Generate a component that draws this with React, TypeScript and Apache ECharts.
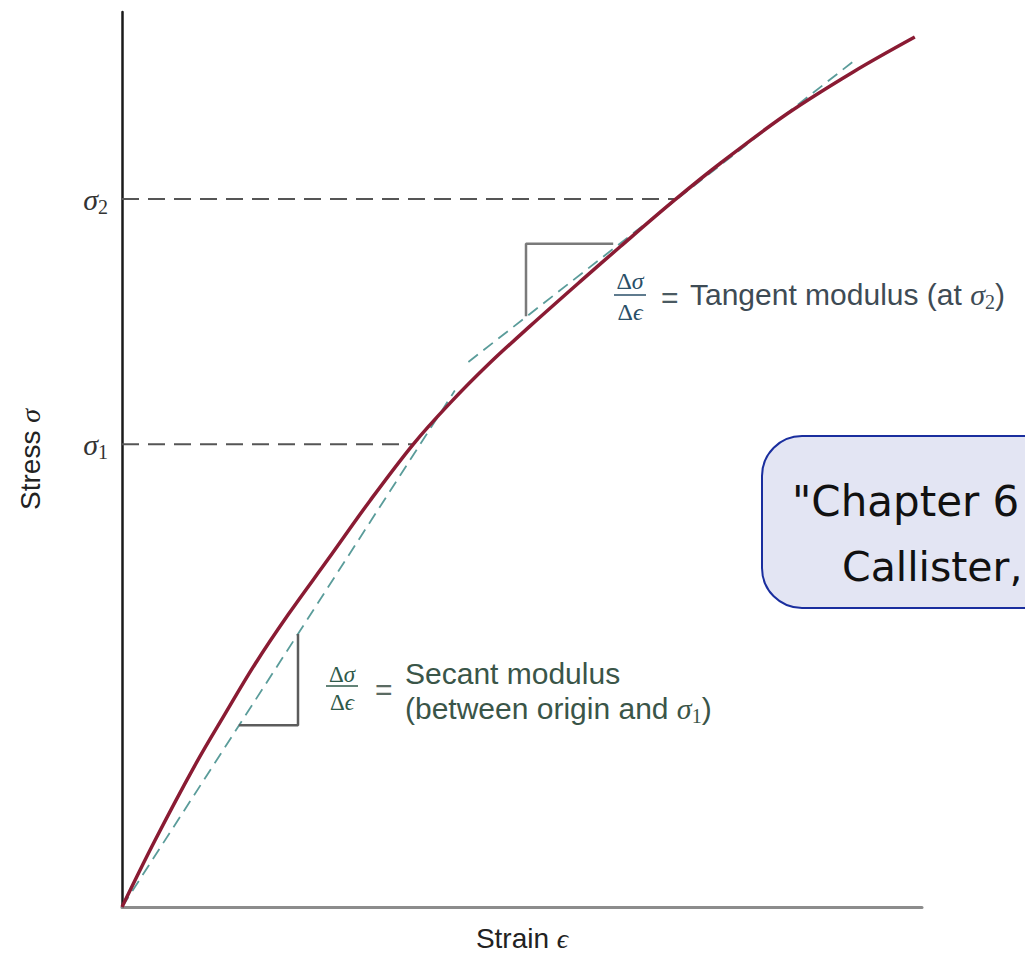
import React, { useEffect, useRef } from "react";
import * as echarts from "echarts";

// Stress–strain curve (strain units 0..100, stress units 0..100)
const strain = [0, 4.1, 9.1, 12.9, 16.6, 20.8, 25.8, 31.0, 36.4, 41.0, 46.0, 51.0, 57.3, 62.3, 69.1, 74.8, 83.1, 91.4, 99.1];
const stress = [0, 7.4, 15.8, 21.6, 27.1, 32.7, 38.9, 45.4, 51.7, 56.3, 60.8, 64.9, 69.9, 73.8, 79.0, 83.1, 88.6, 93.3, 97.2];

// Stress levels marked on the y axis and where they meet the curve
const sigmaLevels = [51.7, 79.1];
const sigmaNames = ["1", "2"];
const sigmaStrainAtCurve = [36.4, 69.0];

// Secant (origin to sigma1) and tangent (at sigma2) lines
const secantLine = [[0, 0], [41.6, 57.7]];
const tangentLine = [[43.3, 60.9], [91.3, 94.4]];
const secantTriangle = [[14.6, 20.3], [22.0, 20.3], [22.0, 30.5]];
const tangentTriangle = [[50.5, 66.0], [50.5, 74.1], [61.4, 74.1]];

export default function App() {
  const ref = useRef<HTMLDivElement>(null);
  useEffect(() => {
    if (!ref.current) return;
    const chart = echarts.init(ref.current, null, { renderer: "svg" });
    const curve = strain.map((x, i) => [x, stress[i]]);
    const sigmaSeries = sigmaLevels.map((s, i) => ({
      type: "line",
      data: [[0, s], [sigmaStrainAtCurve[i], s]],
      showSymbol: false,
      silent: true,
      z: 2,
      lineStyle: { color: "#555", width: 2, type: [17, 9] },
    }));
    const sansFont = "'Liberation Sans', Arial, sans-serif";
    const serifFont = "'Liberation Serif', 'DejaVu Serif', serif";
    const subRich = (color: string, size: number, subSize: number) => ({
      s: { fontFamily: serifFont, fontStyle: "italic", fontSize: size, color, fill: color, lineHeight: 36 },
      sub: { fontFamily: serifFont, fontSize: subSize, color, fill: color, lineHeight: 18, verticalAlign: "bottom" },
    });
    chart.setOption({
      animation: false,
      backgroundColor: "#ffffff",
      grid: { left: 122, right: 103, top: 12, bottom: 45, containLabel: false },
      xAxis: {
        type: "value",
        min: 0,
        max: 100,
        name: "Strain {e|ϵ}",
        nameLocation: "middle",
        nameGap: 31,
        nameTextStyle: {
          fontFamily: sansFont,
          fontSize: 28,
          color: "#222",
          verticalAlign: "middle",
          rich: { e: { fontFamily: serifFont, fontStyle: "italic", fontSize: 28, color: "#222" } },
        },
        axisLine: { onZero: false, lineStyle: { color: "#8c8c8c", width: 3 } },
        axisTick: { show: false },
        axisLabel: { show: false },
        splitLine: { show: false },
      },
      yAxis: {
        type: "value",
        min: 0,
        max: 100,
        name: "Stress {s|σ}",
        nameLocation: "middle",
        nameGap: 92,
        nameTextStyle: {
          fontFamily: sansFont,
          fontSize: 28,
          color: "#222",
          verticalAlign: "middle",
          rich: { s: { fontFamily: serifFont, fontStyle: "italic", fontSize: 28, color: "#222" } },
        },
        axisLine: { lineStyle: { color: "#1a1a1a", width: 2.5 } },
        axisTick: { show: false },
        splitLine: { show: false },
        axisLabel: {
          customValues: sigmaLevels,
          margin: 14,
          color: "#333",
          formatter: (v: number) => {
            const i = sigmaLevels.indexOf(v);
            return "{s|σ}{sub|" + (i >= 0 ? sigmaNames[i] : "") + "}";
          },
          rich: subRich("#333", 30, 20),
        },
      },
      series: [
        ...sigmaSeries,
        {
          type: "line",
          data: secantLine,
          showSymbol: false,
          silent: true,
          z: 3,
          lineStyle: { color: "#5a9c9a", width: 1.8, type: [12, 7] },
        },
        {
          type: "line",
          data: tangentLine,
          showSymbol: false,
          silent: true,
          z: 3,
          lineStyle: { color: "#5a9c9a", width: 1.8, type: [12, 7] },
        },
        {
          type: "line",
          data: secantTriangle,
          showSymbol: false,
          silent: true,
          z: 3,
          lineStyle: { color: "#5c5c5c", width: 2.5 },
        },
        {
          type: "line",
          data: tangentTriangle,
          showSymbol: false,
          silent: true,
          z: 3,
          lineStyle: { color: "#7a7a7a", width: 2.5 },
        },
        {
          type: "line",
          data: curve,
          smooth: 0.35,
          showSymbol: false,
          silent: true,
          z: 5,
          lineStyle: { color: "#8a1b33", width: 3.5 },
        },
      ],
      graphic: [
        // Tangent modulus label
        {
          type: "text",
          x: 630,
          y: 281,
          style: {
            text: "{d|Δ}{s|σ}",
            align: "center",
            verticalAlign: "middle",
            fill: "#2a4f68",
            rich: {
              d: { fontFamily: serifFont, fontSize: 24, fill: "#2a4f68" },
              s: { fontFamily: serifFont, fontStyle: "italic", fontSize: 24, fill: "#2a4f68" },
            },
          },
        },
        { type: "line", shape: { x1: 614, y1: 295, x2: 646, y2: 295 }, style: { stroke: "#2a4f68", lineWidth: 1.5 } },
        {
          type: "text",
          x: 630,
          y: 312,
          style: {
            text: "{d|Δ}{s|ϵ}",
            align: "center",
            verticalAlign: "middle",
            fill: "#2a4f68",
            rich: {
              d: { fontFamily: serifFont, fontSize: 24, fill: "#2a4f68" },
              s: { fontFamily: serifFont, fontStyle: "italic", fontSize: 24, fill: "#2a4f68" },
            },
          },
        },
        {
          type: "text",
          x: 661,
          y: 297,
          style: { text: "=", fontFamily: sansFont, fontSize: 30, fill: "#4a5a62", verticalAlign: "middle" },
        },
        {
          type: "text",
          x: 690,
          y: 294,
          style: {
            text: "Tangent modulus (at {s|σ}{sub|2})",
            fontFamily: sansFont,
            fontSize: 30,
            lineHeight: 36,
            fill: "#3e4b55",
            verticalAlign: "middle",
            rich: subRich("#3e4b55", 30, 20),
          },
        },
        // Secant modulus label
        {
          type: "text",
          x: 342,
          y: 674,
          style: {
            text: "{d|Δ}{s|σ}",
            align: "center",
            verticalAlign: "middle",
            fill: "#2f5a4a",
            rich: {
              d: { fontFamily: serifFont, fontSize: 23, fill: "#2f5a4a" },
              s: { fontFamily: serifFont, fontStyle: "italic", fontSize: 23, fill: "#2f5a4a" },
            },
          },
        },
        { type: "line", shape: { x1: 326, y1: 686, x2: 358, y2: 686 }, style: { stroke: "#2f5a4a", lineWidth: 1.5 } },
        {
          type: "text",
          x: 342,
          y: 702,
          style: {
            text: "{d|Δ}{s|ϵ}",
            align: "center",
            verticalAlign: "middle",
            fill: "#2f5a4a",
            rich: {
              d: { fontFamily: serifFont, fontSize: 23, fill: "#2f5a4a" },
              s: { fontFamily: serifFont, fontStyle: "italic", fontSize: 23, fill: "#2f5a4a" },
            },
          },
        },
        {
          type: "text",
          x: 375,
          y: 689,
          style: { text: "=", fontFamily: sansFont, fontSize: 30, fill: "#5a6a62", verticalAlign: "middle" },
        },
        {
          type: "text",
          x: 405,
          y: 673,
          style: { text: "Secant modulus", fontFamily: sansFont, fontSize: 30, fill: "#3a5548", verticalAlign: "middle" },
        },
        {
          type: "text",
          x: 405,
          y: 708,
          style: {
            text: "(between origin and {s|σ}{sub|1})",
            fontFamily: sansFont,
            fontSize: 30,
            lineHeight: 36,
            fill: "#3a5548",
            verticalAlign: "middle",
            rich: subRich("#3a5548", 30, 20),
          },
        },
        // Source box (clipped by the right edge)
        {
          type: "rect",
          z: 10,
          shape: { x: 762, y: 436, width: 420, height: 172, r: 40 },
          style: { fill: "#e3e5f3", stroke: "#1a2e9e", lineWidth: 2 },
        },
        {
          type: "text",
          z: 11,
          x: 792,
          y: 501,
          style: { text: "\"Chapter 6", fontFamily: "'DejaVu Sans', sans-serif", fontSize: 42, fill: "#111", verticalAlign: "middle" },
        },
        {
          type: "text",
          z: 11,
          x: 842,
          y: 567,
          style: { text: "Callister,", fontFamily: "'DejaVu Sans', sans-serif", fontSize: 41, fill: "#111", verticalAlign: "middle" },
        },
      ],
    });
    return () => chart.dispose();
  }, []);
  return (
    <div
      ref={ref}
      style={{ position: "absolute", left: 0, top: 0, width: 1025, height: 957, background: "#fff" }}
    />
  );
}
